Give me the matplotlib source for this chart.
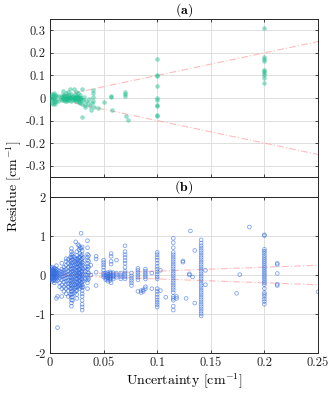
import matplotlib
matplotlib.use("Agg")
import matplotlib.pyplot as plt
from matplotlib.lines import Line2D

plt.rcParams['font.family'] = 'cmr10'
plt.rcParams['mathtext.fontset'] = 'cm'
plt.rcParams['axes.formatter.use_mathtext'] = True

# ---------------- data: panel (a) ----------------
a_x = [0.001, 0.001, 0.002, 0.002, 0.002, 0.003, 0.003, 0.003, 0.004, 0.004, 0.004, 0.005, 0.005, 0.005, 0.006, 0.006,
       0.007, 0.007, 0.010, 0.010, 0.011, 0.011, 0.012, 0.012, 0.013, 0.013, 0.014, 0.014, 0.015, 0.015, 0.016, 0.016,
       0.017, 0.017, 0.018, 0.018, 0.019, 0.019, 0.020, 0.020, 0.021, 0.021, 0.022, 0.022, 0.023, 0.023, 0.024, 0.024,
       0.025, 0.025, 0.026, 0.026, 0.027, 0.027, 0.028, 0.028, 0.029, 0.029, 0.030, 0.030, 0.031, 0.032, 0.033, 0.034,
       0.012, 0.014, 0.016, 0.018, 0.020, 0.022, 0.024, 0.026, 0.028, 0.015, 0.019, 0.023, 0.027, 0.017, 0.021, 0.025,
       0.030, 0.033, 0.035, 0.036, 0.037, 0.038, 0.039, 0.040, 0.040, 0.040, 0.040, 0.041, 0.045, 0.050, 0.057, 0.057,
       0.058, 0.070, 0.070, 0.070, 0.071, 0.073,
       0.100, 0.100, 0.100, 0.100, 0.100, 0.100, 0.100, 0.100, 0.100, 0.100,
       0.200, 0.200, 0.200, 0.200, 0.200, 0.200, 0.200, 0.200, 0.200, 0.200]
a_y = [0.010, -0.010, 0.018, 0.000, -0.020, 0.012, -0.005, -0.025, 0.020, 0.002, -0.018, 0.015, -0.008, -0.028, 0.008, -0.015,
       0.010, -0.012, 0.005, -0.005, 0.012, -0.010, 0.030, 0.000, 0.015, -0.008, 0.008, -0.012, 0.020, -0.005, 0.010, -0.015,
       0.025, 0.002, 0.012, -0.010, 0.038, 0.000, 0.018, -0.012, 0.008, -0.008, 0.038, -0.004, 0.015, -0.010, 0.025, -0.015,
       0.010, -0.006, 0.020, -0.012, 0.005, -0.018, 0.015, -0.020, 0.000, -0.010, 0.038, -0.025, -0.010, 0.005, -0.030, -0.015,
       0.004, 0.002, -0.003, 0.006, 0.003, -0.001, 0.004, 0.001, 0.002, 0.000, -0.002, 0.000, -0.004, 0.005, 0.006, 0.003,
       -0.083, -0.040, -0.020, -0.005, -0.035, -0.055, -0.020, 0.035, 0.020, 0.005, -0.012, -0.040, -0.043, -0.017, 0.004, 0.008,
       -0.054, 0.028, 0.018, 0.010, -0.080, -0.098,
       0.175, 0.100, 0.098, 0.052, 0.002, -0.010, -0.030, -0.037, -0.075, -0.078,
       0.312, 0.182, 0.172, 0.162, 0.125, 0.120, 0.112, 0.100, 0.090, 0.065]

# ---------------- data: panel (b) ----------------
b_cols = [0.001, 0.002, 0.003, 0.004, 0.005, 0.006, 0.007, 0.009, 0.011, 0.013, 0.015, 0.017, 0.019, 0.020, 0.021,
          0.023, 0.024, 0.025, 0.026, 0.027, 0.028, 0.029, 0.030, 0.031, 0.033, 0.035, 0.036, 0.038, 0.043,
          0.050, 0.052, 0.054, 0.056, 0.057, 0.059, 0.062, 0.066, 0.070, 0.076, 0.082, 0.085, 0.087, 0.089, 0.095,
          0.100, 0.103, 0.108, 0.115, 0.118, 0.124, 0.127, 0.130, 0.131, 0.133, 0.135, 0.141, 0.145,
          0.174, 0.177, 0.186, 0.200, 0.212, 0.250]
b_vals = [
    [0.18, 0.12, 0.06, 0.0, -0.06, -0.12],
    [0.2, 0.14, 0.08, 0.02, -0.04, -0.1, -0.16],
    [0.15, 0.1, 0.04, -0.02, -0.08, -0.14],
    [0.18, 0.12, 0.06, 0.0, -0.06, -0.12, -0.2],
    [0.16, 0.1, 0.04, -0.02, -0.08, -0.15],
    [0.24, 0.14, 0.08, 0.02, -0.04, -0.1, -0.6],
    [0.12, 0.06, 0.0, -0.06, -0.14, -0.55, -1.35],
    [0.1, 0.04, -0.02, -0.08, -0.2, -0.3],
    [0.3, 0.15, 0.08, 0.02, -0.05, -0.12, -0.25, -0.35, -0.55],
    [0.2, 0.12, 0.05, -0.02, -0.1, -0.18, -0.3, -0.42],
    [0.42, 0.35, 0.25, 0.15, 0.08, 0.0, -0.08, -0.16, -0.25, -0.35, -0.48],
    [0.4, 0.3, 0.2, 0.1, 0.02, -0.06, -0.14, -0.22, -0.3, -0.4, -0.55],
    [0.45, 0.35, 0.25, 0.15, 0.05, -0.05, -0.15, -0.25, -0.35, -0.5],
    [0.68, 0.6, 0.52, 0.45, 0.38, 0.3, 0.22, 0.15, 0.08, 0.0, -0.07, -0.14, -0.21, -0.28, -0.35, -0.42,
     -0.5, -0.57, -0.64, -0.72, -0.8],
    [0.55, 0.47, 0.4, 0.32, 0.25, 0.17, 0.1, 0.03, -0.04, -0.11, -0.18, -0.25, -0.32, -0.4, -0.48, -0.56, -0.65],
    [0.45, 0.35, 0.25, 0.15, 0.05, -0.05, -0.15, -0.25, -0.35, -0.45],
    [0.85, 0.4, 0.3, 0.2, 0.1, 0.0, -0.1, -0.2, -0.3, -0.4],
    [0.6, 0.5, 0.42, 0.35, 0.27, 0.2, 0.12, 0.05, -0.02, -0.1, -0.17, -0.25, -0.32, -0.4, -0.5, -0.6],
    [0.78, 0.4, 0.3, 0.2, 0.1, 0.0, -0.1, -0.2, -0.3],
    [0.75, 0.65, 0.45, 0.3, 0.15, 0.05, -0.05, -0.15, -0.28],
    [0.7, 0.55, 0.45, 0.35, 0.25, 0.15, 0.05, -0.05, -0.15, -0.25, -0.35],
    [1.07, 0.68, 0.5, 0.4, 0.3, 0.2, 0.1, 0.0, -0.1, -0.2, -0.3],
    [0.72, 0.62, 0.52, 0.42, 0.33, 0.25, 0.17, 0.1, 0.03, -0.04, -0.11, -0.18, -0.25, -0.32, -0.4, -0.48,
     -0.55, -0.65, -0.75, -0.82, -0.9],
    [0.45, 0.3, 0.15, 0.0, -0.15, -0.3],
    [0.2, 0.1, 0.0, -0.1],
    [0.88, 0.7, 0.53, 0.45, 0.38, 0.3, 0.22, 0.15, 0.08, 0.0, -0.07, -0.13, -0.2, -0.35],
    [0.5, 0.35, 0.2, 0.05, -0.1],
    [0.25, 0.0],
    [0.48, 0.41, 0.07, -0.27],
    [0.38, 0.32, 0.26, 0.2, 0.12, 0.05, 0.0, -0.05],
    [0.05, 0.0, -0.04, -0.08, -0.12],
    [0.06, 0.02, -0.03, -0.07, -0.11, -0.16],
    [0.08, 0.03, -0.02, -0.06, -0.1, -0.14],
    [0.55, 0.48, 0.35, 0.28, 0.05, -0.02, -0.08, -0.2],
    [0.06, 0.0, -0.05, -0.1],
    [0.38, 0.05, 0.0, -0.06],
    [0.05, 0.0, -0.05, -0.1],
    [0.75, 0.6, 0.52, 0.45, 0.37, 0.3, 0.2, 0.1, 0.05, 0.0, -0.05, -0.1],
    [0.05, -0.02, -0.08, -0.14, -0.2, -0.27],
    [0.17, 0.12, 0.06, 0.0, -0.06, -0.12, -0.42],
    [-0.45, -0.4],
    [-0.42, -0.38],
    [0.15, 0.1, 0.05, 0.0, -0.05, -0.1, -0.3, -0.35],
    [0.05, -0.35],
    [0.58, 0.52, 0.45, 0.38, 0.3, 0.22, 0.15, 0.08, 0.02, -0.05, -0.1, -0.35, -0.42, -0.5, -0.57, -0.64,
     -0.7, -0.76, -0.82],
    [0.12, -0.4],
    [-0.57],
    [0.94, 0.83, 0.7, 0.58, 0.52, 0.46, 0.4, 0.34, 0.28, 0.22, 0.16, 0.1, 0.04, -0.02, -0.08, -0.14,
     -0.2, -0.26, -0.32, -0.38, -0.45, -0.55, -0.6, -0.65, -0.8, -0.9],
    [-0.55, -0.6],
    [0.36, 0.33],
    [-0.6],
    [0.03, 0.0],
    [1.13],
    [-0.05],
    [0.63, -0.72],
    [0.9, 0.82, 0.75, 0.69, 0.63, 0.57, 0.51, 0.45, 0.39, 0.33, 0.27, 0.21, 0.15, 0.09, 0.03, -0.03,
     -0.09, -0.15, -0.21, -0.27, -0.33, -0.39, -0.45, -0.51, -0.57, -0.63, -0.69, -0.75, -0.81, -0.87,
     -0.93, -0.99, -1.05],
    [0.12, -0.25],
    [-0.47],
    [0.01],
    [1.23],
    [1.03, 1.01, 0.66, 0.61, 0.56, 0.5, 0.45, 0.4, 0.35, 0.3, 0.25, 0.2, 0.15, 0.1, 0.05, 0.0, -0.05,
     -0.1, -0.15, -0.2, -0.25, -0.35, -0.45, -0.5, -0.55, -0.62, -0.68, -0.75],
    [0.3, 0.27, 0.04, -0.24, -0.27],
    [-0.43],
]

x_ticks = [0, 0.05, 0.1, 0.15, 0.2, 0.25]
x_ticklabels = ['0', '0.05', '0.1', '0.15', '0.2', '0.25']
a_yticks = [-0.3, -0.2, -0.1, 0, 0.1, 0.2, 0.3]
a_yticklabels = ['-0.3', '-0.2', '-0.1', '0', '0.1', '0.2', '0.3']
b_yticks = [-2, -1, 0, 1, 2]
b_yticklabels = ['-2', '-1', '0', '1', '2']
bound_x = [0, 0.25]

W, H = 335, 393
fig = plt.figure(figsize=(W / 100, H / 100), dpi=100)

L, R = 50 / W, 318 / W
ax_a = fig.add_axes([L, 1 - 177 / H, R - L, (177 - 19) / H])
ax_b = fig.add_axes([L, 1 - 353 / H, R - L, (353 - 197) / H])

spine_c = '#262626'
for ax in (ax_a, ax_b):
    ax.set_xlim(0, 0.25)
    ax.set_xticks(x_ticks)
    ax.grid(True, color='#dedede', linewidth=0.7)
    ax.set_axisbelow(True)
    ax.tick_params(direction='in', length=2.5, width=0.6, top=True, right=True,
                   labelsize=9, colors=spine_c, pad=3)
    for s in ax.spines.values():
        s.set_color(spine_c)
        s.set_linewidth(0.7)

red = '#ff9090'
# panel a
ax_a.set_ylim(-0.35, 0.35)
ax_a.set_yticks(a_yticks)
ax_a.set_yticklabels(a_yticklabels)
ax_a.set_xticklabels([])
ax_a.plot(bound_x, [b for b in bound_x], color=red, lw=0.8, alpha=0.6, dashes=(6, 2, 1, 2))
ax_a.plot(bound_x, [-b for b in bound_x], color=red, lw=0.8, alpha=0.6, dashes=(6, 2, 1, 2))
ax_a.scatter(a_x, a_y, s=8, color='#1abc8c', alpha=0.45, linewidths=0.3, zorder=3)

# panel b
bx, by = [], []
for xv, ys in zip(b_cols, b_vals):
    for yv in ys:
        bx.append(xv)
        by.append(yv)
ax_b.set_ylim(-2, 2)
ax_b.set_yticks(b_yticks)
ax_b.set_yticklabels(b_yticklabels)
ax_b.set_xticklabels(x_ticklabels)
ax_b.plot(bound_x, [b for b in bound_x], color=red, lw=0.8, alpha=0.6, dashes=(6, 2, 1, 2))
ax_b.plot(bound_x, [-b for b in bound_x], color=red, lw=0.8, alpha=0.6, dashes=(6, 2, 1, 2))
ax_b.scatter(bx, by, s=7, facecolors='none', edgecolors='#2f68e0', alpha=0.6, linewidths=0.6, zorder=3)

# frame lines connecting the two panels
for xx in (L, R):
    fig.add_artist(Line2D([xx, xx], [1 - 197 / H, 1 - 177 / H], color=spine_c, lw=0.7,
                          transform=fig.transFigure))

fig.text((L + R) / 2, 1 - 10 / H, r'$\mathbf{(a)}$', ha='center', va='center', fontsize=10)
fig.text((L + R) / 2, 1 - 187 / H, r'$\mathbf{(b)}$', ha='center', va='center', fontsize=10)
fig.text(14 / W, 1 - 186 / H, r'Residue [cm$^{-1}$]', rotation=90, ha='center', va='center', fontsize=10)
ax_b.set_xlabel(r'Uncertainty [cm$^{-1}$]', fontsize=10, labelpad=2)

fig.savefig('out.png', dpi=100)
